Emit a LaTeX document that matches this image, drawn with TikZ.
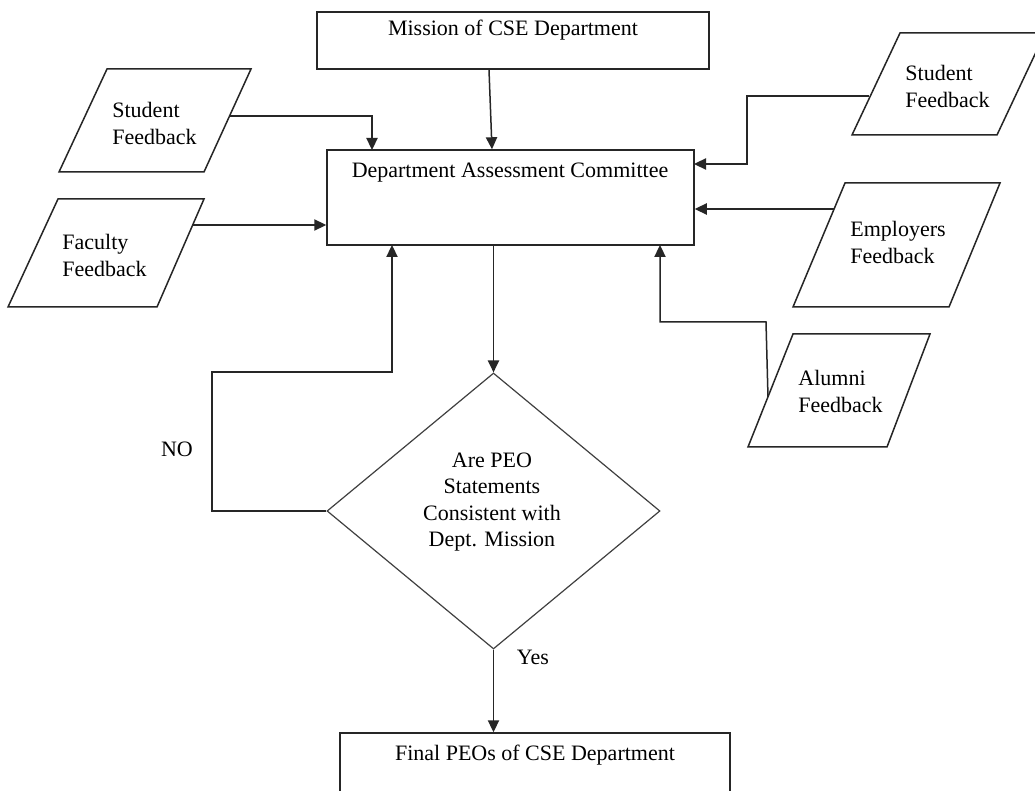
\documentclass[tikz,border=0pt]{standalone}
\usepackage{fontspec}
\setmainfont{Liberation Serif}
\usetikzlibrary{arrows.meta,calc,shapes.geometric}
\begin{document}
\begin{tikzpicture}[x=0.5pt,y=-0.5pt,
  line/.style={line width=0.75pt, draw=black!85},
  arr/.style={line, -{Triangle[length=6pt,width=5.6pt]}},
  box/.style={draw=black!85, line width=0.75pt, rectangle, inner sep=0pt},
  para/.style={draw=black!85, line width=0.75pt},
  txt/.style={font=\fontsize{11}{13.5}\selectfont, inner sep=0pt, align=left},
  ctxt/.style={font=\fontsize{11}{13.1}\selectfont, inner sep=0pt, align=center}]
\clip (0,0) rectangle (1035,791);
\fill[white] (0,0) rectangle (1035,791);

% rectangles
\node[box, minimum width=196pt, minimum height=28.5pt] (mission) at (513,40.5) {};
\node[txt] (missiontxt) at (513,30) {Mission of CSE Department};
\node[box, minimum width=183.5pt, minimum height=47.5pt] (dac) at (510.5,197.5) {};
\node[txt] (dactxt) at (510,173) {Department Assessment Committee};
\node[box, minimum width=195pt, minimum height=38.5pt] (final) at (535,771.5) {};
\node[txt] (finaltxt) at (535,755) {Final PEOs of CSE Department};

% decision
\node[draw=black!75, line width=0.6pt, diamond, inner sep=0pt,
      minimum width=166.5pt, minimum height=138pt] (dec) at (493.5,511) {};
\node[ctxt] (dectxt) at (492,502) {Are PEO\\Statements\\Consistent with\\Dept. Mission};

% feedback inputs
\draw[para] (107,69) -- (251,69) -- (204,172) -- (59,172) -- cycle;
\node[txt, anchor=west] (stuL) at (112,123.5) {Student\\Feedback};
\draw[para] (58,199) -- (204,199) -- (157,307) -- (8,307) -- cycle;
\node[txt, anchor=west] (fac) at (62,255) {Faculty\\Feedback};
\draw[para] (900,33) -- (1045,33) -- (997,135) -- (852,135) -- cycle;
\node[txt, anchor=west] (stuR) at (905,86) {Student\\Feedback};
\draw[para] (845,183) -- (1000,183) -- (949,307) -- (793,307) -- cycle;
\node[txt, anchor=west] (emp) at (850,242.5) {Employers\\Feedback};
\draw[para] (793,334) -- (930,334) -- (887,447) -- (748,447) -- cycle;
\node[txt, anchor=west] (alum) at (798,391) {Alumni\\Feedback};

% connector ends and bends
\coordinate (stuLout) at (230,116);
\coordinate (dacinL) at (372,150);
\coordinate (facout) at (192,225);
\coordinate (stuRout) at (869,96);
\coordinate (stuRturn) at (747,96);
\coordinate (dacinR) at (694,164);
\coordinate (empout) at (834,209);
\coordinate (alumout) at (768,397);
\coordinate (alumturn) at (766,322);
\coordinate (dacinB) at (660,245);
\coordinate (noturn) at (212,372);
\coordinate (dacinN) at (392,245);

% connectors
\draw[arr] ($(mission.south)+(-24,0)$) -- ($(dac.north)+(-18.5,0)$);
\draw[arr] (stuLout) -| (dacinL);
\draw[arr] (facout) -- (facout -| dac.west);
\draw[arr] (stuRout) -- (stuRturn) |- (dacinR);
\draw[arr] (empout) -- (empout -| dac.east);
\draw[arr] (alumout) -- (alumturn) -| (dacinB);
\draw[arr] (dec.north |- dac.south) -- (dec.north);
\draw[arr] (dec.west) -| (noturn) -| (dacinN);
\draw[arr] (dec.south) -- (dec.south |- final.north);

% decision labels
\node[txt] (nolbl) at (177,449) {NO};
\node[txt] (yeslbl) at (533,657) {Yes};
\end{tikzpicture}
\end{document}
